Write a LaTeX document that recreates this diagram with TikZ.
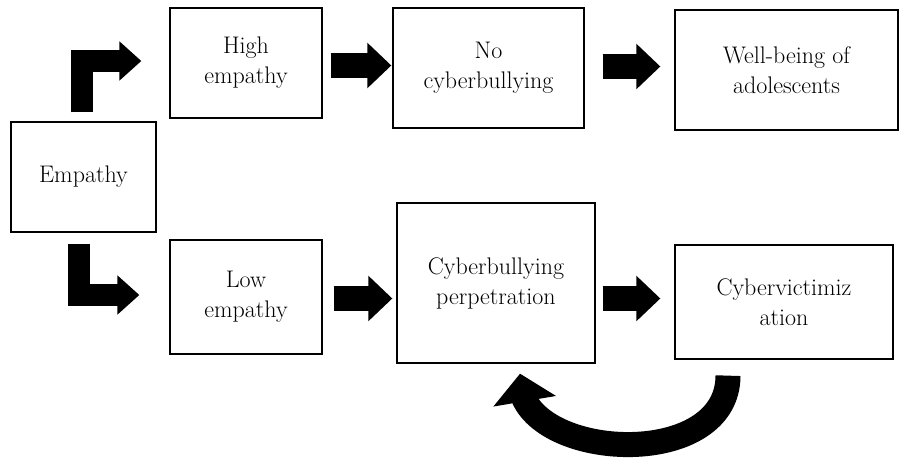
\documentclass[tikz,border=0pt]{standalone}
\usetikzlibrary{arrows.meta, bending, positioning}

\begin{document}
\begin{tikzpicture}[
    x=1pt, y=-1pt,
    box/.style={
        rectangle, draw, line width=1.3pt,
        align=center, font=\fontsize{24}{30}\selectfont
    },
    blk/.style={
        line width=25pt,
        -{Triangle[length=24pt, width=44pt]}
    },
    lblk/.style={
        line width=22pt, line join=miter,
        -{Triangle[length=22pt, width=38pt]}
    },
    cblk/.style={
        line width=25pt,
        -{Triangle[length=28pt, width=62pt]}
    }
]
\useasboundingbox (0,0) rectangle (910,460);

\node[box, minimum width=145pt, minimum height=110pt] (empathy) at (83.5, 177)  {Empathy};
\node[box, minimum width=152pt, minimum height=110pt] (high)    at (246,   63)  {High\\empathy};
\node[box, minimum width=191pt, minimum height=120pt] (nocb)    at (488.5, 68)  {No\\cyberbullying};
\node[box, minimum width=223pt, minimum height=120pt] (well)    at (786.5, 70)  {Well-being of\\adolescents};
\node[box, minimum width=152pt, minimum height=114pt] (low)     at (246,  297)  {Low\\empathy};
\node[box, minimum width=198pt, minimum height=160pt] (perp)    at (496,  283)  {Cyberbullying\\perpetration};
\node[box, minimum width=218pt, minimum height=114pt] (victim)  at (784,  302)  {Cybervictimiz\\ation};

\draw[lblk] ([xshift=-2pt, yshift=9pt]empathy.north) |- ([xshift=-28pt, yshift=2pt]high.west);
\draw[lblk] ([xshift=-5pt, yshift=-11pt]empathy.south) |- ([xshift=-30pt, yshift=2pt]low.west);

\draw[blk] ([xshift=8pt, yshift=-2.5pt]high.east) -- ([xshift=-1pt, yshift=2.5pt]nocb.west);
\draw[blk] ([xshift=18pt, yshift=1.5pt]nocb.east) -- ([xshift=-14pt, yshift=3.5pt]well.west);
\draw[blk] ([xshift=11pt, yshift=-1.5pt]low.east) -- ([xshift=-4pt, yshift=-15.5pt]perp.west);
\draw[blk] ([xshift=7pt, yshift=-15.5pt]perp.east) -- ([xshift=-14pt, yshift=3.5pt]victim.west);

% feedback loop
\draw[cblk] ([xshift=-56pt, yshift=-16pt]victim.south)
    .. controls ([xshift=-56pt, yshift=-116pt]victim.south)
    and ([xshift=14pt, yshift=-96pt]perp.south)
    .. ([xshift=24pt, yshift=-10pt]perp.south);

\end{tikzpicture}
\end{document}
